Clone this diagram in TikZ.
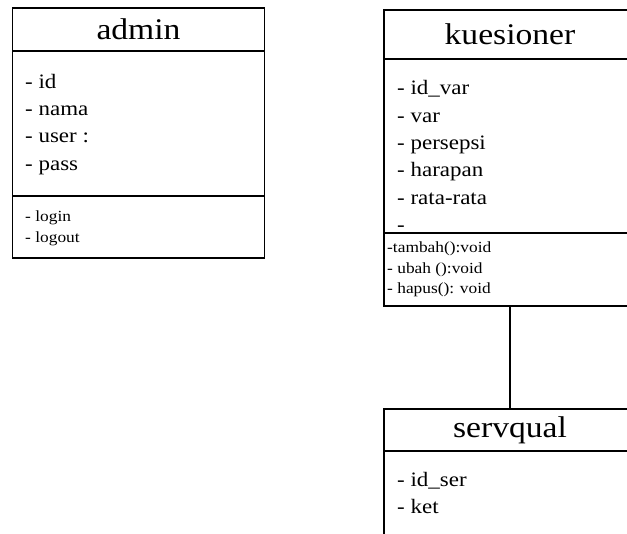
\documentclass[tikz,border=0pt]{standalone}
\usepackage{fontspec}
\setmainfont{Liberation Serif}[FakeStretch=1.12]
\usetikzlibrary{positioning}

\begin{document}
\begin{tikzpicture}[x=1pt,y=-1pt,
	kotak/.style={draw,line width=1.8pt,outer sep=0pt,inner sep=0pt,minimum width=252pt},
	judul/.style={kotak,font=\fontsize{30}{36}\selectfont},
	atribut/.style={inner sep=0pt,align=left,anchor=base west,font=\fontsize{20.5}{27.3}\selectfont},
	operasi/.style={inner sep=0pt,align=left,anchor=base west,font=\fontsize{15.5}{20.6}\selectfont}]

\useasboundingbox (0,0) rectangle (627,534);
\clip (0,0) rectangle (627,534);

% admin
\node [judul,minimum height=43pt] at (138.5,29.5) (admin) {admin};
\node [kotak,minimum height=145pt,below=0pt of admin] (admin-atr) {};
\node [kotak,minimum height=62pt,below=0pt of admin-atr] (admin-op) {};
% base = baseline of the last line
\node [atribut] at (25,170.2) (admin-atr-isi) {- id\\- nama\\- user :\\- pass};
\node [operasi] at (25,242.3) (admin-op-isi) {- login\\- logout};

% kuesioner
\node [judul,minimum height=49pt] at (510,34.5) (kuesioner) {kuesioner};
\node [kotak,minimum height=174pt,below=0pt of kuesioner] (kuesioner-atr) {};
\node [kotak,minimum height=73pt,below=0pt of kuesioner-atr] (kuesioner-op) {};
\node [atribut] at (397,231.5) (kuesioner-atr-isi) {- id\_var\\- var\\- persepsi\\- harapan\\- rata-rata\\-};
\node [operasi] at (387,293.9) (kuesioner-op-isi) {-tambah():void\\- ubah ():void\\- hapus(): void};

% servqual
\node [judul,minimum height=42pt] at (510,430) (servqual) {servqual};
\node [kotak,minimum height=120pt,below=0pt of servqual] (servqual-atr) {};
\node [atribut] at (397,514) (servqual-atr-isi) {- id\_ser\\- ket};

\draw [line width=1.8pt] (kuesioner-op) -- (servqual);

\end{tikzpicture}
\end{document}
